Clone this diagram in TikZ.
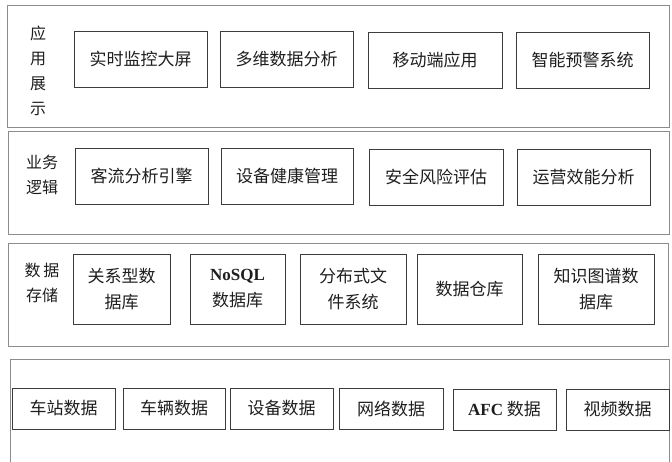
\documentclass[tikz,border=0pt]{standalone}
\usepackage{fontspec}
\newfontfamily\cjk{Noto Sans CJK SC}
\newfontfamily\latinserif{Liberation Serif}
\usetikzlibrary{positioning}
\definecolor{boxLine}{RGB}{60, 60, 60}
\definecolor{frameLine}{RGB}{140, 140, 140}
\definecolor{txt}{RGB}{30, 30, 30}

\begin{document}
\begin{tikzpicture}[
  x=1pt, y=-1pt,
  layer/.style={
    rectangle,
    draw=frameLine,
    line width=0.9pt,
    inner sep=0pt
  },
  tag/.style={
    font=\cjk\fontsize{16}{25}\selectfont,
    text=txt,
    align=center,
    inner sep=0pt
  },
  box/.style={
    rectangle,
    draw=boxLine,
    line width=0.8pt,
    inner sep=2pt,
    align=center,
    text=txt,
    font=\cjk\fontsize{17}{26}\selectfont
  },
  lat/.style={font=\latinserif\bfseries\fontsize{17}{26}\selectfont}
]
  \useasboundingbox (0,0) rectangle (672,462);

  % ── Couches ────────────────────────────────────────────────────
  \node[layer, minimum width=662, minimum height=122] (layApp)  at (338.0,  66.0) {};
  \node[layer, minimum width=661, minimum height=103] (layBiz)  at (338.5, 182.5) {};
  \node[layer, minimum width=660, minimum height=103] (layStore) at (338.0, 294.5) {};
  \coordinate (srcBL) at (10,462);
  \coordinate (srcTL) at (10,359);
  \coordinate (srcTR) at (669,359);
  \coordinate (srcBR) at (669,462);
  \draw[draw=frameLine, line width=0.9pt] (srcBL) -- (srcTL) -- (srcTR) -- (srcBR);

  \node[tag] (tagApp)   at (38, 71)  {应\\用\\展\\示};
  \node[tag] (tagBiz)   at (42, 175) {业务\\逻辑};
  \node[tag] (tagStore) at (42, 283) {数\,据\\存储};

  % ── Application ────────────────────────────────────────────────
  \node[box, minimum width=133, minimum height=56] (app1) at (140.5, 59) {实时监控大屏};
  \node[box, minimum width=133, minimum height=56] (app2) at (286.5, 59) {多维数据分析};
  \node[box, minimum width=134, minimum height=56] (app3) at (435.0, 60) {移动端应用};
  \node[box, minimum width=133, minimum height=56] (app4) at (582.5, 60) {智能预警系统};

  % ── Logique métier ─────────────────────────────────────────────
  \node[box, minimum width=133, minimum height=56] (biz1) at (141.5, 176) {客流分析引擎};
  \node[box, minimum width=132, minimum height=56] (biz2) at (287.0, 176) {设备健康管理};
  \node[box, minimum width=134, minimum height=56] (biz3) at (436.0, 177) {安全风险评估};
  \node[box, minimum width=133, minimum height=56] (biz4) at (583.5, 177) {运营效能分析};

  % ── Stockage ───────────────────────────────────────────────────
  \node[box, minimum width=97,  minimum height=70] (st1) at (121.5, 289) {关系型数\\据库};
  \node[box, minimum width=95,  minimum height=70] (st2) at (237.5, 289) {{\latinserif\bfseries NoSQL}\\数据库};
  \node[box, minimum width=106, minimum height=70] (st3) at (353.0, 289) {分布式文\\件系统};
  \node[box, minimum width=105, minimum height=70] (st4) at (469.5, 289) {数据仓库};
  \node[box, minimum width=116, minimum height=70] (st5) at (596.0, 289) {知识图谱数\\据库};

  % ── Sources ────────────────────────────────────────────────────
  \node[box, minimum width=103, minimum height=41] (src1) at (63.5,  408.5) {车站数据};
  \node[box, minimum width=102, minimum height=41] (src2) at (174.0, 408.5) {车辆数据};
  \node[box, minimum width=103, minimum height=41] (src3) at (281.5, 408.5) {设备数据};
  \node[box, minimum width=104, minimum height=41] (src4) at (391.0, 409.0) {网络数据};
  \node[box, minimum width=103, minimum height=41] (src5) at (504.5, 409.5) {{\latinserif\bfseries AFC} 数据};
  \node[box, minimum width=103, minimum height=41] (src6) at (617.5, 409.5) {视频数据};

\end{tikzpicture}
\end{document}
